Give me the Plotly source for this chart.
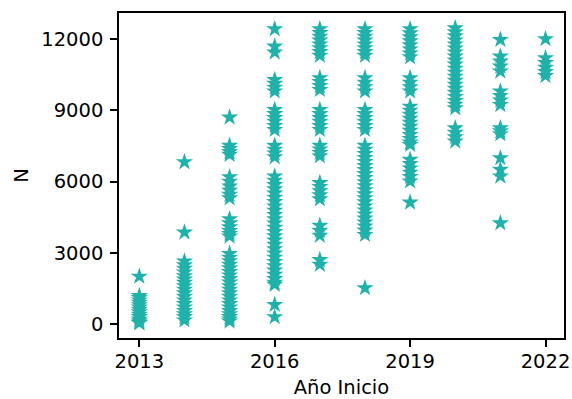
import plotly.graph_objects as go

years = [2013, 2014, 2015, 2016, 2017, 2018, 2019, 2020, 2021, 2022]

n_2013 = [2000, 1190, 1100, 1000, 900, 800, 700, 600, 500, 400, 300, 200, 120, 60, 40]
n_2014 = [6820, 3860, 2640, 2480, 2330, 2180, 2020, 1880, 1740, 1600, 1450, 1300,
          1150, 1000, 850, 700, 560, 420, 300, 160]
n_2015 = [8700, 7510, 7380, 7250, 7130, 6190, 6000, 5800, 5620, 5450, 5300, 4420,
          4250, 4080, 3920, 3800, 3690, 2960, 2800, 2650, 2500, 2350, 2200, 2050,
          1900, 1750, 1600, 1450, 1300, 1150, 1000, 850, 700, 550, 420, 300, 200, 110]
n_2016 = [12420, 11690, 11440, 10285, 10120, 9960, 9800, 9020, 8850, 8680, 8520,
          8350, 8180, 7510, 7350, 7190, 7030, 6220, 6040, 5860, 5680, 5500, 5320,
          5140, 4960, 4780, 4600, 4420, 4240, 4060, 3880, 3700, 3520, 3340, 3160,
          2980, 2800, 2620, 2440, 2260, 2080, 1900, 1740, 1660, 810, 295]
n_2017 = [12420, 12260, 12100, 11940, 11780, 11620, 11460, 11300, 10360, 10200,
          10030, 9865, 9020, 8850, 8680, 8520, 8350, 8180, 7510, 7360, 7210, 7070,
          5940, 5780, 5600, 5430, 5260, 4140, 3930, 3720, 2700, 2500]
n_2018 = [12420, 12260, 12100, 11940, 11780, 11620, 11460, 11300, 10360, 10170,
          9980, 9800, 9020, 8850, 8680, 8520, 8350, 8180, 7510, 7340, 7170, 7000,
          6830, 6660, 6490, 6320, 6150, 5980, 5810, 5640, 5470, 5300, 5130, 4960,
          4790, 4620, 4450, 4280, 4110, 3940, 3760, 1515]
n_2019 = [12420, 12250, 12080, 11910, 11740, 11570, 11400, 11240, 10360, 10170,
          9980, 9800, 9160, 8990, 8820, 8650, 8480, 8310, 8140, 7970, 7800, 7650,
          7550, 6920, 6740, 6560, 6380, 6200, 6010, 5120]
n_2020 = [12460, 12290, 12120, 11950, 11780, 11610, 11440, 11270, 11100, 10930,
          10760, 10590, 10420, 10250, 10080, 9910, 9740, 9570, 9400, 9240, 9090,
          8250, 8060, 7870, 7690]
n_2021 = [11970, 11270, 11060, 10850, 10640, 9800, 9610, 9420, 9230, 8250, 8120,
          8000, 6990, 6500, 6220, 4250]
n_2022 = [12000, 11200, 11000, 10800, 10620, 10450]

series = [n_2013, n_2014, n_2015, n_2016, n_2017, n_2018, n_2019, n_2020, n_2021, n_2022]

xs, ys = [], []
for yr, vals in zip(years, series):
    xs.extend([yr] * len(vals))
    ys.extend(vals)

x_ticks = [2013, 2016, 2019, 2022]
y_ticks = [0, 3000, 6000, 9000, 12000]

color = "#20B2AA"
font = dict(family="DejaVu Sans", size=19.5, color="black")

fig = go.Figure(go.Scatter(
    x=xs, y=ys, mode="markers",
    marker=dict(symbol="star", size=13, color=color, line=dict(width=0)),
))

axis_common = dict(
    showgrid=False, zeroline=False, showline=True, linecolor="black",
    linewidth=1.5, mirror=True, ticks="outside", ticklen=7, tickwidth=1.5,
    tickcolor="black", tickfont=font, title_font=font, automargin=False,
)

fig.update_layout(
    width=572, height=399,
    margin=dict(l=119, r=8, t=13, b=61, autoexpand=False),
    paper_bgcolor="white", plot_bgcolor="white",
    showlegend=False,
    font=font,
    xaxis=dict(range=[2012.55, 2022.41], tickvals=x_ticks,
               ticktext=[str(v) for v in x_ticks], ticklabelstandoff=-2,
               title=dict(text="Año Inicio", standoff=9), **axis_common),
    yaxis=dict(range=[-590, 13095], tickvals=y_ticks,
               ticktext=[str(v) for v in y_ticks], ticklabelstandoff=3,
               title=dict(text="N", standoff=7), **axis_common),
)

fig.write_html("out.html", config={"displayModeBar": False},
               post_script="document.body.style.margin='0';document.body.style.padding='0';")
